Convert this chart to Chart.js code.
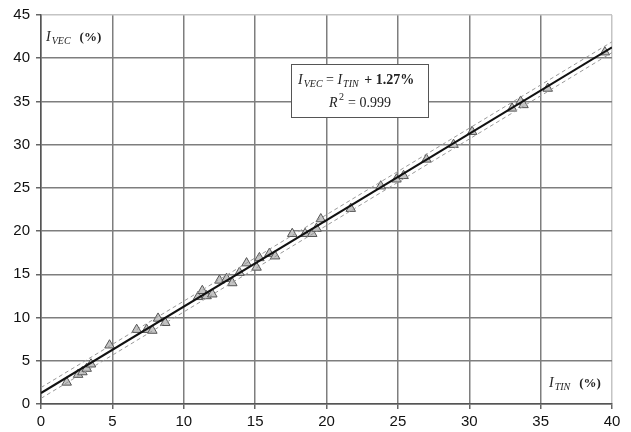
<!DOCTYPE html>
<html>
<head>
<meta charset="utf-8">
<script src="https://cdn.jsdelivr.net/npm/chart.js@4/dist/chart.umd.min.js"></script>
<style>
  html, body { margin: 0; padding: 0; background: #fff; }
  #wrap { width: 631px; height: 432px; }
</style>
</head>
<body>
<div id="wrap"><canvas id="myChart" width="631" height="432"></canvas></div>
<script>
// measured points (I_TIN, I_VEC) in %
const itin = [1.8, 2.6, 2.9, 3.2, 3.5, 4.8, 6.7, 7.4, 7.8, 8.2, 8.7, 11.0, 11.3, 11.6, 12.0, 12.5, 13.0, 13.4, 13.9, 14.4, 15.1, 15.3, 16.0, 16.4, 17.6, 18.5, 19.0, 19.3, 19.6, 21.7, 23.8, 24.9, 25.4, 27.0, 28.9, 30.2, 33.0, 33.6, 33.8, 35.5, 39.5];
const ivec = [2.5, 3.4, 3.7, 4.1, 4.6, 6.8, 8.6, 8.6, 8.5, 9.9, 9.4, 12.4, 13.1, 12.5, 12.7, 14.3, 14.5, 14.0, 15.2, 16.3, 15.8, 16.9, 17.4, 17.1, 19.7, 19.7, 19.7, 20.3, 21.4, 22.6, 25.2, 26.0, 26.4, 28.3, 30.0, 31.5, 34.2, 35.0, 34.6, 36.5, 40.7];

// regression line and band ends
const fitX = [0, 40];
const fitY = [1.27, 41.27];
const upperY = [1.9, 41.9];
const lowerY = [0.65, 40.65];

const xTicks = [0, 5, 10, 15, 20, 25, 30, 35, 40];
const yTicks = [0, 5, 10, 15, 20, 25, 30, 35, 40, 45];

const toPoints = (xs, ys) => xs.map((x, i) => ({ x: x, y: ys[i] }));

// draws "I" with a small subscript, returns new x
const drawSubText = (ctx, x, y, main, sub, size) => {
  ctx.font = `italic ${size}px "Liberation Serif"`;
  ctx.fillText(main, x, y);
  x += ctx.measureText(main).width + 1;
  ctx.font = `italic ${Math.round(size * 0.7)}px "Liberation Serif"`;
  ctx.fillText(sub, x, y + 3);
  return x + ctx.measureText(sub).width;
};

const annotations = {
  id: "annotations",
  afterDraw: (chart) => {
    const ctx = chart.ctx;
    ctx.save();
    ctx.fillStyle = "#222";
    ctx.textBaseline = "alphabetic";
    ctx.textAlign = "left";

    // axis labels
    let x = drawSubText(ctx, 46, 41, "I", "VEC", 14);
    ctx.font = 'bold 13px "Liberation Serif"';
    ctx.fillText("(%)", x + 9, 41);

    x = drawSubText(ctx, 549, 387, "I", "TIN", 14);
    ctx.font = 'bold 13px "Liberation Serif"';
    ctx.fillText("(%)", x + 9, 387);

    // equation box
    ctx.fillStyle = "#fff";
    ctx.fillRect(291, 64, 137, 53);
    ctx.strokeStyle = "#555";
    ctx.lineWidth = 1;
    ctx.strokeRect(291.5, 64.5, 137, 53);

    ctx.fillStyle = "#222";
    x = drawSubText(ctx, 298, 84, "I", "VEC", 14);
    ctx.font = '14px "Liberation Serif"';
    ctx.fillText(" = ", x, 84);
    x += ctx.measureText(" = ").width;
    x = drawSubText(ctx, x, 84, "I", "TIN", 14);
    ctx.font = 'bold 14px "Liberation Serif"';
    ctx.fillText(" + 1.27%", x + 2, 84);

    ctx.font = 'italic 14px "Liberation Serif"';
    ctx.fillText("R", 329, 107);
    ctx.font = '10px "Liberation Serif"';
    ctx.fillText("2", 339, 100);
    ctx.font = '14px "Liberation Serif"';
    ctx.fillText("= 0.999", 348, 107);
    ctx.restore();
  },
};

const gridColor = (max) => (context) =>
  context.tick && context.tick.value === max ? "#c4c4c4" : "#7e7e7e";

const config = {
  type: "scatter",
  data: {
    datasets: [
      {
        data: toPoints(fitX, fitY),
        showLine: true,
        borderColor: "#111",
        borderWidth: 2,
        pointRadius: 0,
        order: 1,
      },
      {
        data: toPoints(fitX, upperY),
        showLine: true,
        borderColor: "#999",
        borderWidth: 1,
        borderDash: [4, 3],
        pointRadius: 0,
        order: 2,
      },
      {
        data: toPoints(fitX, lowerY),
        showLine: true,
        borderColor: "#999",
        borderWidth: 1,
        borderDash: [4, 3],
        pointRadius: 0,
        order: 3,
      },
      {
        data: toPoints(itin, ivec),
        pointStyle: "triangle",
        pointRadius: 5.5,
        backgroundColor: "#c4c4c4",
        borderColor: "#555",
        borderWidth: 1,
        order: 4,
      },
    ],
  },
  options: {
    responsive: false,
    animation: false,
    layout: { padding: { top: 13, right: 19, left: 0, bottom: 0 } },
    plugins: {
      legend: { display: false },
      tooltip: { enabled: false },
    },
    scales: {
      x: {
        type: "linear",
        min: 0,
        max: 40,
        afterBuildTicks: (scale) => {
          scale.ticks = xTicks.map((v) => ({ value: v }));
        },
        afterFit: (scale) => {
          scale.height = 28;
        },
        ticks: {
          color: "#111",
          font: { family: "Liberation Sans", size: 15 },
          padding: 4,
          maxRotation: 0,
        },
        grid: { color: gridColor(40), lineWidth: 1.5, tickLength: 5, tickColor: "#666" },
        border: { color: "#555", width: 1.5 },
      },
      y: {
        type: "linear",
        min: 0,
        max: 45,
        afterBuildTicks: (scale) => {
          scale.ticks = yTicks.map((v) => ({ value: v }));
        },
        afterFit: (scale) => {
          scale.width = 41;
        },
        ticks: {
          color: "#111",
          font: { family: "Liberation Sans", size: 15 },
          padding: 6,
        },
        grid: { color: gridColor(45), lineWidth: 1.5, tickLength: 5, tickColor: "#666" },
        border: { color: "#555", width: 1.5 },
      },
    },
  },
  plugins: [annotations],
};

const myChart = new Chart(document.getElementById("myChart"), config);
</script>
</body>
</html>
